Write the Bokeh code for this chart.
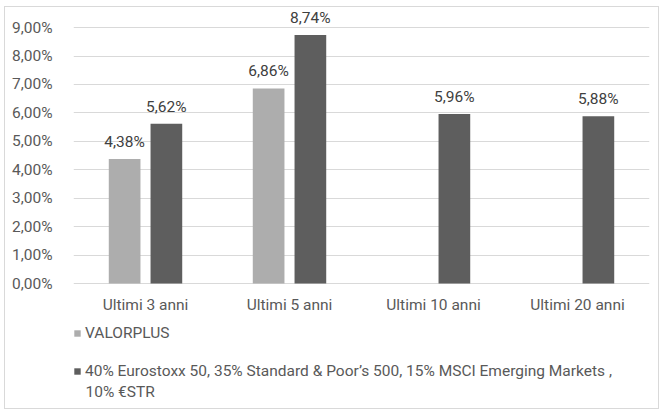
from bokeh.plotting import figure
from bokeh.models import (ColumnDataSource, FactorRange, Range1d, Legend, LegendItem,
                          FixedTicker, CustomJSTickFormatter, Label)
from bokeh.transform import dodge
from bokeh.core.properties import value
from bokeh.embed import file_html
from bokeh.resources import INLINE

categories = ["Ultimi 3 anni", "Ultimi 5 anni", "Ultimi 10 anni", "Ultimi 20 anni"]
valorplus_cats = ["Ultimi 3 anni", "Ultimi 5 anni"]
valorplus_vals = [4.38, 6.86]
bench_vals = [5.62, 8.74, 5.96, 5.88]
y_ticks = [0, 1, 2, 3, 4, 5, 6, 7, 8, 9]
series_names = ["VALORPLUS",
                "40% Eurostoxx 50, 35% Standard & Poor\u2019s 500, 15% MSCI Emerging Markets ,",
                "10% \u20acSTR"]

FONT = "Roboto"
TXT = "#595959"
FS = "15.5px"

def fmt(v):
    return ("%.2f" % v).replace(".", ",") + "%"

src_a = ColumnDataSource(dict(cat=valorplus_cats, val=valorplus_vals,
                              lab=[fmt(v) for v in valorplus_vals]))
src_b = ColumnDataSource(dict(cat=categories, val=bench_vals,
                              lab=[fmt(v) for v in bench_vals]))
src_c = ColumnDataSource(dict(cat=categories, y=[0] * len(categories)))

p = figure(width=655, height=403, x_range=FactorRange(*categories),
           y_range=Range1d(-4.43, 9.6), output_backend="svg", toolbar_location=None,
           min_border_left=68, min_border_right=11, min_border_top=3, min_border_bottom=1)
p.x_range.range_padding = 0
p.outline_line_color = None
p.background_fill_color = "white"
p.border_fill_color = "white"

ra = p.vbar(x=dodge("cat", -0.145, range=p.x_range), top="val", width=0.22,
            source=src_a, fill_color="#ADADAD", line_color=None)
rb = p.vbar(x=dodge("cat", 0.145, range=p.x_range), top="val", width=0.22,
            source=src_b, fill_color="#5E5E5E", line_color=None)

for src, off in ((src_a, -0.145), (src_b, 0.145)):
    p.text(x=dodge("cat", off, range=p.x_range), y="val", text="lab", source=src,
           text_align="center", text_baseline="bottom", y_offset=-8,
           text_font=value(FONT), text_font_size=FS, text_color="#404040")

# category labels under the 0% line
p.text(x="cat", y="y", text="cat", source=src_c, text_align="center",
       text_baseline="middle", y_offset=21, text_font=value(FONT),
       text_font_size=FS, text_color=TXT)

p.yaxis.ticker = FixedTicker(ticks=y_ticks)
p.yaxis.formatter = CustomJSTickFormatter(code="return tick.toFixed(2).replace('.', ',') + '%';")
p.yaxis.axis_line_color = None
p.yaxis.major_tick_line_color = None
p.yaxis.minor_tick_line_color = None
p.yaxis.major_label_text_font = FONT
p.yaxis.major_label_text_font_size = FS
p.yaxis.major_label_text_color = TXT
p.yaxis.major_label_standoff = 15

p.xaxis.visible = False
p.xgrid.grid_line_color = None
p.ygrid.grid_line_color = "#D9D9D9"
p.ygrid.ticker = FixedTicker(ticks=y_ticks)

legend = Legend(items=[LegendItem(label=series_names[0], renderers=[ra]),
                       LegendItem(label=series_names[1], renderers=[rb])],
                orientation="vertical", location=(0, 29),
                label_text_font=FONT, label_text_font_size=FS, label_text_color=TXT,
                glyph_width=8, glyph_height=8, label_standoff=4, spacing=20,
                padding=0, margin=0, border_line_color=None, background_fill_alpha=0,
                label_height=16)
p.add_layout(legend, "center")

p.add_layout(Label(x=12, y=18, x_units="screen", y_units="screen", text=series_names[2],
                   text_font=FONT, text_font_size=FS, text_color=TXT,
                   text_baseline="middle"))

p.styles = {"border": "1px solid #D9D9D9", "margin-left": "4px", "margin-top": "6px"}

open("out.html", "w").write(file_html(p, INLINE))
